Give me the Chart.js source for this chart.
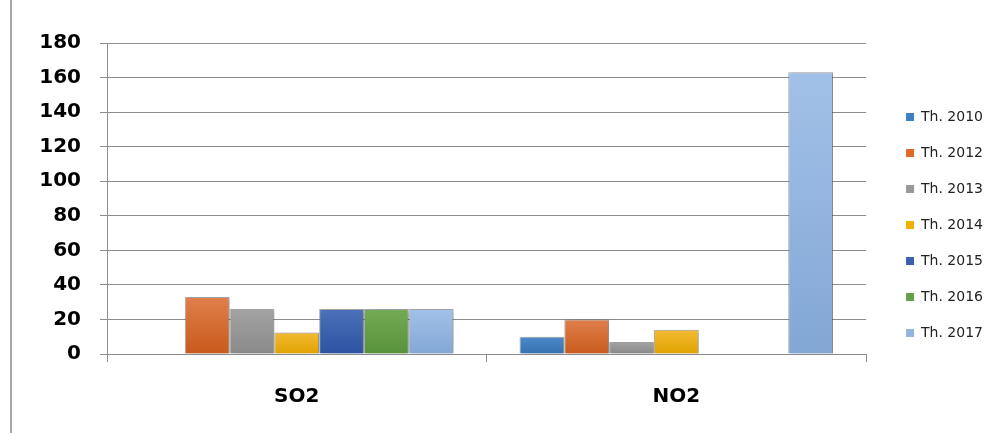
<!DOCTYPE html>
<html>
<head>
<meta charset="utf-8">
<script src="https://cdn.jsdelivr.net/npm/chart.js@4.4.0/dist/chart.umd.min.js"></script>
<style>
  html, body { margin: 0; padding: 0; background: #fff; }
  #wrap { width: 998px; height: 433px; position: relative; }
</style>
</head>
<body>
<div id="wrap"><canvas id="myChart"></canvas></div>
<script>
// du lieu doc tu bieu do
const categories = ["SO2", "NO2"];
const years = ["Th. 2010", "Th. 2012", "Th. 2013", "Th. 2014", "Th. 2015", "Th. 2016", "Th. 2017"];
const th2010 = [null, 10];
const th2012 = [33, 20];
const th2013 = [26, 7];
const th2014 = [12.5, 14];
const th2015 = [26, null];
const th2016 = [26, null];
const th2017 = [26, 163];
const yTicks = [0, 20, 40, 60, 80, 100, 120, 140, 160, 180];

const series = [th2010, th2012, th2013, th2014, th2015, th2016, th2017];
const baseColors = ["#3f7fc2", "#dc6a26", "#999999", "#efb000", "#3a61ad", "#66a046", "#92b4de"];
const topColors = ["#4d8bcb", "#e07f4c", "#a3a3a3", "#f1ba33", "#4d71b9", "#74aa55", "#a2c1e8"];
const botColors = ["#3570b0", "#c85a1b", "#898989", "#e2a300", "#2c52a2", "#57923a", "#82a7d5"];

function barGradient(i) {
  return function (context) {
    const chart = context.chart;
    if (context.type !== "data" || !chart.chartArea) return baseColors[i];
    const v = context.raw;
    if (v === null || v === undefined) return baseColors[i];
    const yScale = chart.scales.y;
    const top = yScale.getPixelForValue(v);
    const bot = yScale.getPixelForValue(0);
    if (bot - top < 1) return baseColors[i];
    const g = chart.ctx.createLinearGradient(0, top, 0, bot);
    g.addColorStop(0, topColors[i]);
    g.addColorStop(1, botColors[i]);
    return g;
  };
}

const datasets = [];
for (let i = 0; i < years.length; i++) {
  datasets.push({
    label: years[i],
    data: series[i],
    backgroundColor: barGradient(i),
    borderColor: "rgba(110,110,110,0.55)",
    borderWidth: 1,
    categoryPercentage: 0.826,
    barPercentage: 1.0
  });
}

const frameLine = {
  id: "frameLine",
  beforeDraw(chart) {
    const c = chart.ctx;
    c.save();
    c.fillStyle = "#ffffff";
    c.fillRect(0, 0, chart.width, chart.height);
    c.strokeStyle = "#a6a6a6";
    c.lineWidth = 2;
    c.beginPath();
    c.moveTo(11, 0);
    c.lineTo(11, chart.height);
    c.stroke();
    c.restore();
  }
};

const barShadow = {
  id: "barShadow",
  beforeDatasetsDraw(chart) {
    const c = chart.ctx;
    c.save();
    c.shadowColor = "rgba(0,0,0,0.28)";
    c.shadowBlur = 4;
    c.shadowOffsetX = 2;
    c.shadowOffsetY = 1;
  },
  afterDatasetsDraw(chart) {
    chart.ctx.restore();
  }
};

const gridColor = "#8c8c8c";

const config = {
  type: "bar",
  data: { labels: categories, datasets: datasets },
  options: {
    responsive: true,
    maintainAspectRatio: false,
    animation: false,
    layout: { padding: { left: 20, top: 43, right: 5, bottom: 26 } },
    plugins: {
      tooltip: { enabled: false },
      legend: {
        display: true,
        position: "right",
        align: "center",
        labels: {
          boxWidth: 8,
          boxHeight: 8,
          padding: 22,
          color: "#222222",
          font: { family: "DejaVu Sans", size: 14 },
          generateLabels: function (chart) {
            return chart.data.datasets.map(function (ds, i) {
              return {
                text: ds.label,
                fillStyle: baseColors[i],
                strokeStyle: baseColors[i],
                lineWidth: 0,
                hidden: false,
                datasetIndex: i,
                fontColor: "#222222"
              };
            });
          }
        }
      }
    },
    scales: {
      x: {
        position: "bottom",
        grid: { display: true, drawOnChartArea: false, drawTicks: true, tickLength: 8, color: gridColor, offset: true },
        border: { display: true, color: gridColor, width: 1 },
        ticks: { color: "#000000", padding: 23, font: { family: "DejaVu Sans", size: 20, weight: "bold" } },
        afterFit: function (scale) { scale.height = 53; }
      },
      y: {
        position: "left",
        min: 0,
        max: 180,
        afterBuildTicks: function (scale) {
          scale.ticks = yTicks.map(function (v) { return { value: v }; });
        },
        grid: { color: gridColor, lineWidth: 1, tickLength: 7, drawTicks: true },
        border: { display: true, color: gridColor, width: 1 },
        ticks: { color: "#000000", padding: 19, font: { family: "DejaVu Sans", size: 20, weight: "bold" } },
        afterFit: function (scale) { scale.width = 87; }
      },
      yRight: {
        position: "right",
        display: true,
        grid: { display: false },
        border: { display: false },
        ticks: { display: false },
        afterFit: function (scale) { scale.width = 18; }
      }
    }
  },
  plugins: [frameLine, barShadow]
};

new Chart(document.getElementById("myChart"), config);
</script>
</body>
</html>
